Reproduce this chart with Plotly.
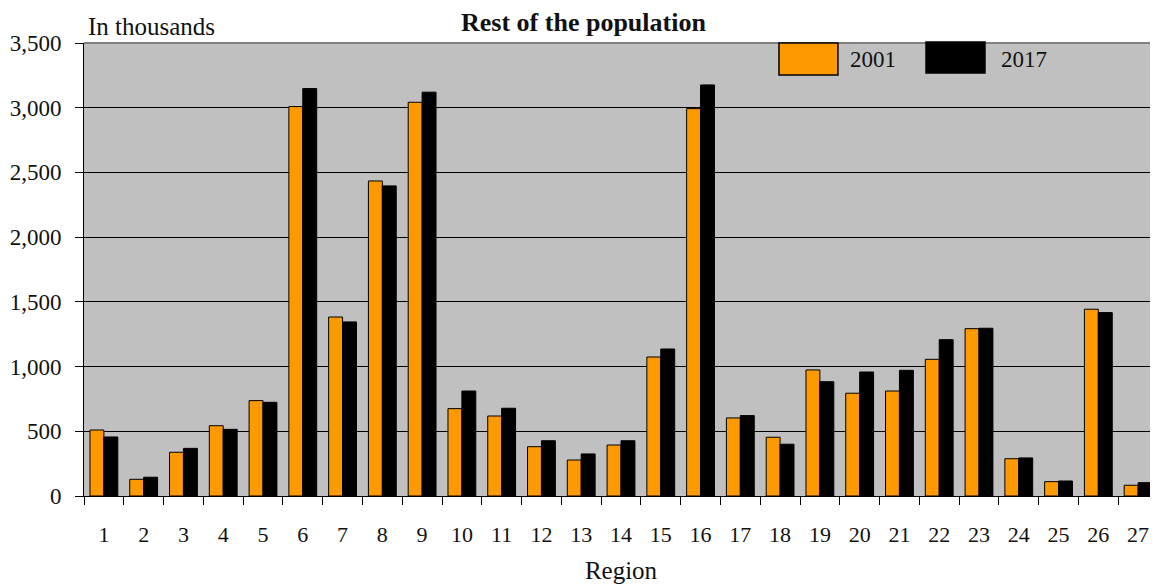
import plotly.graph_objects as go

regions = [str(i) for i in range(1, 28)]
values_2001 = [510, 129, 338, 543, 737, 3009, 1383, 2434, 3042, 675,
               618, 381, 278, 394, 1074, 2993, 603, 454, 974, 794,
               811, 1056, 1293, 288, 111, 1443, 83]
values_2017 = [456, 145, 368, 515, 724, 3148, 1345, 2396, 3120, 811,
               678, 427, 325, 427, 1136, 3176, 621, 400, 883, 958,
               971, 1208, 1296, 294, 116, 1417, 103]
series_names = ["2001", "2017"]
series_colors = ["#FF9900", "#000000"]

FONT = "Liberation Serif, Times New Roman, serif"
TXT = "#111111"

fig = go.Figure()
for name, vals, col in zip(series_names, [values_2001, values_2017], series_colors):
    fig.add_trace(go.Bar(
        x=regions, y=vals, name=name,
        marker=dict(color=col, line=dict(color="black", width=1)),
        showlegend=False,
    ))

# the page body adds an 8px margin, so the figure is offset by 8px
fig.update_layout(
    width=1150, height=576,
    margin=dict(l=76, r=0, t=35, b=88),
    paper_bgcolor="white",
    plot_bgcolor="#C0C0C0",
    barmode="group",
    bargap=0.3,
    bargroupgap=0,
    font=dict(family=FONT, size=22, color=TXT),
    title=dict(text="<b>Rest of the population</b>", x=0.5004, xref="container",
               y=0.9757, yref="container", yanchor="middle",
               font=dict(family=FONT, size=26, color=TXT)),
)

fig.update_xaxes(
    type="category",
    range=[-0.5, 26.5],
    automargin=False,
    showline=True, linecolor="black", linewidth=1,
    ticks="outside", ticklen=8, tickcolor="black", tickwidth=1,
    tickson="boundaries",
    ticklabelstandoff=19,
    showgrid=False,
    title=dict(text="Region", standoff=21, font=dict(family=FONT, size=25, color=TXT)),
    tickfont=dict(family=FONT, size=22, color=TXT),
)
fig.update_yaxes(
    range=[0, 3500],
    automargin=False,
    tickvals=[0, 500, 1000, 1500, 2000, 2500, 3000, 3500],
    ticktext=["0", "500", "1,000", "1,500", "2,000", "2,500", "3,000", "3,500"],
    showline=True, linecolor="black", linewidth=1,
    ticks="outside", ticklen=8, tickcolor="black", tickwidth=1,
    ticklabelstandoff=9,
    showgrid=True, gridcolor="black", gridwidth=1,
    zeroline=False,
    tickfont=dict(family=FONT, size=23, color=TXT),
)

# top border of plot area
fig.add_shape(type="line", xref="paper", yref="paper", x0=0, x1=1, y0=1, y1=1,
              line=dict(color="#808080", width=2))

# "In thousands" label
fig.add_annotation(text="In thousands", xref="paper", yref="paper",
                   x=0, xshift=2, y=1.0375, xanchor="left", yanchor="middle",
                   showarrow=False, font=dict(family=FONT, size=25, color=TXT))

# custom legend
legend_boxes = [(0.6471, 0.7020, 0.9294, 1.0), (0.7840, 0.8389, 0.9338, 1.002)]
legend_text_x = [0.7114, 0.852]
for (x0, x1, y0, y1), col, name, tx in zip(legend_boxes, series_colors, series_names, legend_text_x):
    fig.add_shape(type="rect", xref="paper", yref="paper", x0=x0, x1=x1, y0=y0, y1=y1,
                  fillcolor=col, line=dict(color="black", width=1.5))
    fig.add_annotation(text=name, xref="paper", yref="paper", x=tx, y=0.9625,
                       xanchor="left", yanchor="middle", showarrow=False,
                       font=dict(family=FONT, size=23, color=TXT))

fig.write_html("out.html")
